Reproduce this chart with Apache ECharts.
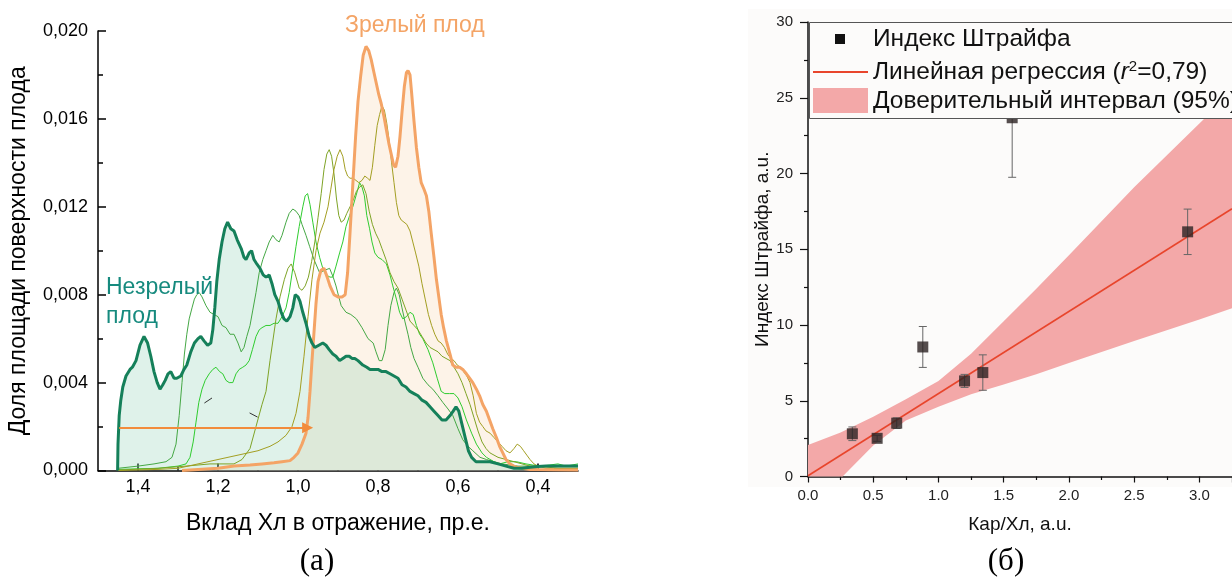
<!DOCTYPE html>
<html><head><meta charset="utf-8">
<script src="https://cdn.jsdelivr.net/npm/echarts@6/dist/echarts.min.js"></script>
<style>html,body{margin:0;padding:0;background:#fff}#c{width:1232px;height:579px}</style>
</head><body><div id="c"></div>
<script>
// ---------- Panel (a): distribution curves [x (pr.e.), share] ----------
const immature = [[1.451,0],[1.450,0.0012],[1.447,0.0025],[1.443,0.0032],[1.438,0.0038],[1.43,0.0043],[1.42,0.0046],[1.414,0.0047],[1.405,0.0050],[1.395,0.0057],[1.385,0.0061],[1.376,0.0058],[1.368,0.0052],[1.36,0.0045],[1.352,0.0040],[1.345,0.0037],[1.338,0.0039],[1.332,0.0041],[1.325,0.0044],[1.318,0.0045],[1.31,0.0042],[1.303,0.0042],[1.293,0.0043],[1.285,0.0046],[1.278,0.0048],[1.268,0.0054],[1.259,0.0058],[1.25,0.0060],[1.243,0.0061],[1.235,0.0059],[1.226,0.0057],[1.218,0.0058],[1.213,0.0064],[1.208,0.0074],[1.203,0.0086],[1.197,0.0096],[1.19,0.0104],[1.183,0.0110],[1.176,0.0113],[1.168,0.0110],[1.16,0.0109],[1.152,0.0105],[1.142,0.0101],[1.135,0.0097],[1.13,0.0096],[1.122,0.0099],[1.116,0.0100],[1.11,0.0096],[1.103,0.0094],[1.095,0.0092],[1.087,0.0089],[1.08,0.0088],[1.072,0.0089],[1.065,0.0085],[1.058,0.0080],[1.05,0.0077],[1.042,0.0072],[1.035,0.0069],[1.028,0.0068],[1.02,0.0070],[1.013,0.0074],[1.007,0.0080],[1.0,0.0079],[0.995,0.0077],[0.988,0.0072],[0.98,0.0067],[0.972,0.0061],[0.965,0.0058],[0.958,0.0056],[0.948,0.0057],[0.938,0.0058],[0.93,0.0057],[0.922,0.0055],[0.913,0.0053],[0.905,0.0052],[0.896,0.0050],[0.888,0.0051],[0.88,0.0052],[0.872,0.0052],[0.865,0.0051],[0.858,0.0051],[0.85,0.0050],[0.838,0.0048],[0.828,0.0047],[0.82,0.0046],[0.81,0.0046],[0.80,0.0046],[0.79,0.0045],[0.78,0.0045],[0.77,0.0044],[0.76,0.0043],[0.75,0.0042],[0.74,0.0039],[0.73,0.0038],[0.72,0.0036],[0.71,0.0035],[0.70,0.0034],[0.69,0.0032],[0.68,0.0031],[0.67,0.0029],[0.66,0.0027],[0.65,0.0025],[0.64,0.0023],[0.63,0.0023],[0.62,0.0025],[0.612,0.0027],[0.605,0.0029],[0.598,0.0027],[0.59,0.0021],[0.582,0.0015],[0.574,0.0009],[0.566,0.0006],[0.555,0.0004],[0.54,0.0004],[0.52,0.0004],[0.50,0.0003],[0.48,0.0002],[0.46,0.0001],[0.44,0.0001],[0.42,0.00015],[0.40,0.00018],[0.38,0.0002],[0.36,0.0002],[0.34,0.0002],[0.32,0.0002],[0.30,0.0002]];

const mature = [[1.29,0],[1.25,0.00005],[1.2,0.0001],[1.16,0.0002],[1.12,0.00025],[1.09,0.0003],[1.06,0.00035],[1.04,0.0004],[1.02,0.00045],[1.01,0.0006],[1.0,0.0008],[0.99,0.0012],[0.98,0.0017],[0.975,0.0024],[0.97,0.0036],[0.965,0.0050],[0.96,0.0063],[0.955,0.0076],[0.95,0.0086],[0.943,0.0091],[0.935,0.0092],[0.927,0.0088],[0.92,0.0084],[0.91,0.0080],[0.9,0.0079],[0.89,0.0079],[0.882,0.0080],[0.876,0.0090],[0.87,0.0108],[0.863,0.0130],[0.856,0.0152],[0.85,0.0168],[0.843,0.0180],[0.837,0.0189],[0.83,0.0193],[0.823,0.0191],[0.817,0.0187],[0.81,0.0181],[0.804,0.0176],[0.798,0.0171],[0.792,0.0167],[0.785,0.0161],[0.779,0.0155],[0.773,0.0149],[0.767,0.0144],[0.761,0.0139],[0.756,0.0138],[0.75,0.0143],[0.745,0.0152],[0.74,0.0163],[0.734,0.0175],[0.729,0.0181],[0.725,0.0182],[0.72,0.0180],[0.716,0.0172],[0.71,0.0159],[0.704,0.0147],[0.698,0.0138],[0.692,0.0131],[0.685,0.0128],[0.679,0.0125],[0.673,0.0118],[0.667,0.0108],[0.66,0.0097],[0.654,0.0087],[0.648,0.0079],[0.642,0.0071],[0.636,0.0065],[0.629,0.0059],[0.62,0.0053],[0.613,0.0048],[0.605,0.0047],[0.596,0.0047],[0.588,0.0046],[0.579,0.0044],[0.571,0.0042],[0.563,0.0040],[0.554,0.0037],[0.546,0.0034],[0.538,0.0030],[0.529,0.0027],[0.521,0.0023],[0.513,0.0019],[0.504,0.0015],[0.496,0.0011],[0.488,0.0008],[0.48,0.0005],[0.47,0.0003],[0.46,0.0002],[0.454,0.00015],[0.44,0.0001],[0.42,0.00005],[0.40,0.00004],[0.36,0.00003],[0.30,0.00002]];

const stageA = [[1.45,0.0001],[1.40,0.0002],[1.36,0.0003],[1.33,0.0004],[1.315,0.0006],[1.305,0.0012],[1.297,0.0025],[1.29,0.0040],[1.284,0.0053],[1.278,0.0062],[1.272,0.0069],[1.265,0.0074],[1.259,0.0078],[1.253,0.0080],[1.247,0.0081],[1.24,0.0079],[1.23,0.0075],[1.22,0.0072],[1.21,0.0071],[1.2,0.0070],[1.19,0.0066],[1.18,0.0065],[1.17,0.0062],[1.16,0.0062],[1.15,0.0058],[1.142,0.0054],[1.135,0.0056],[1.128,0.0061],[1.12,0.0066],[1.113,0.0073],[1.105,0.0081],[1.097,0.0090],[1.088,0.0096],[1.08,0.0100],[1.072,0.0104],[1.063,0.0107],[1.055,0.0105],[1.047,0.0104],[1.04,0.0107],[1.03,0.0113],[1.022,0.0117],[1.013,0.0119],[1.005,0.0118],[0.997,0.0116],[0.99,0.0112],[0.98,0.0107],[0.971,0.0102],[0.96,0.0096],[0.946,0.0090],[0.935,0.0091],[0.921,0.0092],[0.912,0.0088],[0.905,0.0084],[0.898,0.0079],[0.892,0.0075],[0.88,0.0072],[0.868,0.0071],[0.854,0.0069],[0.84,0.0065],[0.825,0.0060],[0.812,0.0058],[0.805,0.0054],[0.797,0.0050],[0.79,0.0050],[0.782,0.0055],[0.775,0.0066],[0.768,0.0075],[0.76,0.0081],[0.754,0.0083],[0.747,0.0080],[0.74,0.0074],[0.733,0.0068],[0.725,0.0062],[0.718,0.0056],[0.71,0.0051],[0.70,0.0047],[0.688,0.0042],[0.675,0.0039],[0.663,0.0037],[0.65,0.0034],[0.638,0.0031],[0.625,0.0028],[0.613,0.0025],[0.60,0.0019],[0.588,0.0014],[0.575,0.0011],[0.563,0.0009],[0.545,0.0006],[0.529,0.0005],[0.51,0.0004],[0.49,0.0003],[0.45,0.0002],[0.40,0.0002],[0.35,0.0002],[0.30,0.0002]];

const stageB = [[1.45,0.00005],[1.35,0.0001],[1.30,0.0002],[1.28,0.0003],[1.27,0.0006],[1.262,0.0013],[1.255,0.0022],[1.248,0.0031],[1.24,0.0037],[1.232,0.0041],[1.222,0.0044],[1.213,0.0046],[1.205,0.0047],[1.196,0.0045],[1.188,0.0044],[1.18,0.0041],[1.172,0.0040],[1.163,0.0040],[1.155,0.0044],[1.147,0.0046],[1.138,0.0047],[1.13,0.0048],[1.122,0.0050],[1.114,0.0055],[1.105,0.0061],[1.097,0.0064],[1.09,0.0065],[1.08,0.0066],[1.07,0.0066],[1.06,0.0067],[1.05,0.0067],[1.04,0.0070],[1.03,0.0074],[1.022,0.0081],[1.013,0.0092],[1.005,0.0102],[0.997,0.0111],[0.988,0.0120],[0.982,0.0125],[0.976,0.0126],[0.97,0.0121],[0.963,0.0113],[0.955,0.0104],[0.946,0.0097],[0.938,0.0092],[0.93,0.0089],[0.92,0.0088],[0.913,0.0088],[0.905,0.0093],[0.896,0.0099],[0.888,0.0104],[0.88,0.0111],[0.871,0.0116],[0.863,0.0120],[0.855,0.0125],[0.846,0.0131],[0.84,0.0129],[0.834,0.0125],[0.828,0.0116],[0.821,0.0110],[0.815,0.0104],[0.808,0.0099],[0.8,0.0097],[0.79,0.0096],[0.779,0.0094],[0.77,0.0089],[0.763,0.0084],[0.754,0.0078],[0.746,0.0072],[0.738,0.0069],[0.729,0.0070],[0.72,0.0072],[0.712,0.0071],[0.704,0.0066],[0.696,0.0062],[0.688,0.0060],[0.675,0.0055],[0.663,0.0049],[0.652,0.0042],[0.642,0.0036],[0.633,0.0035],[0.621,0.0035],[0.61,0.0035],[0.6,0.0033],[0.59,0.0029],[0.579,0.0023],[0.566,0.0017],[0.554,0.0012],[0.54,0.0008],[0.529,0.0006],[0.51,0.0004],[0.496,0.0003],[0.475,0.0004],[0.454,0.0004],[0.43,0.0003],[0.413,0.00025],[0.39,0.0002],[0.371,0.00025],[0.35,0.0003],[0.33,0.0002],[0.30,0.0003]];

const stageC = [[1.45,0.00002],[1.35,0.0001],[1.28,0.0002],[1.22,0.0003],[1.16,0.0003],[1.14,0.0005],[1.12,0.0010],[1.105,0.0020],[1.09,0.0030],[1.08,0.0036],[1.07,0.0050],[1.055,0.0069],[1.045,0.0079],[1.034,0.0087],[1.025,0.0092],[1.017,0.0094],[1.008,0.0090],[0.997,0.0083],[0.99,0.0082],[0.982,0.0084],[0.974,0.0088],[0.966,0.0095],[0.958,0.0104],[0.95,0.0115],[0.942,0.0126],[0.935,0.0137],[0.928,0.0144],[0.922,0.0146],[0.916,0.0143],[0.91,0.0135],[0.904,0.0124],[0.898,0.0116],[0.892,0.0113],[0.885,0.0114],[0.878,0.0117],[0.87,0.0120],[0.862,0.0123],[0.854,0.0127],[0.846,0.0129],[0.838,0.0130],[0.83,0.0126],[0.822,0.0118],[0.814,0.0112],[0.806,0.0108],[0.798,0.0105],[0.79,0.0101],[0.78,0.0096],[0.77,0.0090],[0.76,0.0086],[0.75,0.0083],[0.74,0.0078],[0.73,0.0073],[0.72,0.0068],[0.71,0.0066],[0.70,0.0064],[0.69,0.0061],[0.68,0.0058],[0.67,0.0056],[0.66,0.0055],[0.65,0.0054],[0.64,0.0052],[0.63,0.0051],[0.62,0.0050],[0.61,0.0047],[0.60,0.0044],[0.59,0.0040],[0.58,0.0035],[0.57,0.0030],[0.56,0.0024],[0.55,0.0018],[0.54,0.0013],[0.53,0.0010],[0.52,0.0008],[0.50,0.0006],[0.48,0.0005],[0.46,0.0004],[0.44,0.0003],[0.42,0.0002],[0.40,0.0002],[0.35,0.0001],[0.30,0.0001]];

const stageD = [[1.45,0.0],[1.35,0.00005],[1.3,0.0001],[1.25,0.0003],[1.2,0.0005],[1.15,0.0007],[1.1,0.0009],[1.07,0.0011],[1.05,0.0013],[1.03,0.0016],[1.015,0.0020],[1.005,0.0026],[0.995,0.0036],[0.985,0.0052],[0.975,0.0070],[0.965,0.0087],[0.955,0.0100],[0.945,0.0108],[0.935,0.0113],[0.925,0.0120],[0.918,0.0128],[0.91,0.0137],[0.902,0.0143],[0.895,0.0146],[0.888,0.0143],[0.882,0.0137],[0.876,0.0134],[0.87,0.0133],[0.862,0.0133],[0.855,0.0132],[0.848,0.0131],[0.84,0.0132],[0.833,0.0134],[0.826,0.0133],[0.82,0.0132],[0.814,0.0138],[0.808,0.0148],[0.802,0.0157],[0.796,0.0162],[0.79,0.0166],[0.784,0.0164],[0.778,0.0158],[0.772,0.0150],[0.766,0.0140],[0.76,0.0131],[0.754,0.0122],[0.748,0.0116],[0.742,0.0114],[0.735,0.0113],[0.728,0.0112],[0.72,0.0109],[0.713,0.0104],[0.706,0.0099],[0.698,0.0093],[0.69,0.0085],[0.682,0.0078],[0.674,0.0071],[0.666,0.0066],[0.658,0.0062],[0.65,0.0059],[0.642,0.0058],[0.634,0.0056],[0.626,0.0053],[0.618,0.0051],[0.61,0.0050],[0.602,0.0048],[0.594,0.0047],[0.586,0.0045],[0.578,0.0043],[0.57,0.0040],[0.562,0.0034],[0.554,0.0026],[0.546,0.0022],[0.538,0.0020],[0.53,0.0018],[0.52,0.0017],[0.51,0.0015],[0.50,0.0013],[0.49,0.0011],[0.48,0.0009],[0.47,0.0008],[0.46,0.0010],[0.452,0.0012],[0.444,0.0011],[0.436,0.0009],[0.428,0.0007],[0.42,0.0005],[0.41,0.0003],[0.40,0.0002],[0.38,0.0001],[0.35,0.0001],[0.30,0.0001]];

const arrowStart = [1.447, 0.00195];
const arrowEnd = [0.976, 0.00195];
const strayMarks = [[[1.234,0.00307],[1.215,0.0033]], [[1.121,0.00262],[1.101,0.00243]]];

const xMajorTicksA = [0.4, 0.6, 0.8, 1.0, 1.2, 1.4];
const xMinorTicksA = [0.5, 0.7, 0.9, 1.1, 1.3];

// ---------- Panel (б): Streif index vs Car/Chl ----------
const strX   = [0.34, 0.53, 0.68, 0.88, 1.20, 1.34, 1.565, 2.91];
const strY   = [2.82, 2.52, 3.52, 8.55, 6.31, 6.86, 23.68, 16.15];
const strErr = [0.45, 0.20, 0.35, 1.35, 0.43, 1.17, 3.93, 1.50];
const regX = [0, 3.25];
const regY = [0.05, 17.67];
const bandUpX = [0, 0.25, 0.5, 0.75, 1.0, 1.25, 1.5, 1.75, 2.0, 2.5, 3.0, 3.25];
const bandUpY = [2.08, 2.9, 3.95, 5.1, 6.3, 8.1, 10.25, 12.4, 14.6, 19.1, 23.3, 25.4];
const bandLoX = [0, 0.265, 0.5, 0.75, 1.0, 1.25, 1.5, 1.75, 2.0, 2.5, 3.0, 3.25];
const bandLoY = [0, 0, 2.05, 3.7, 4.6, 5.43, 6.07, 6.75, 7.5, 8.95, 10.37, 11.1];

const FONT = 'Liberation Sans, Arial, sans-serif';
const SERIF = 'Liberation Serif, Times New Roman, serif';
const BLACK = '#000';
const LEG = '24.5px ' + FONT;

const chart = echarts.init(document.getElementById('c'), null, {renderer: 'canvas'});

function thin(data, color) {
  return {type: 'line', xAxisIndex: 0, yAxisIndex: 0, data: data, showSymbol: false, symbol: 'none',
    lineStyle: {color: color, width: 1}, z: 3, silent: true};
}

const option = {
  animation: false,
  backgroundColor: '#ffffff',
  grid: [
    {left: 98, top: 31, width: 480, height: 439.5},
    {left: 808, top: 22, width: 433.3, height: 454.5}
  ],
  xAxis: [
    {gridIndex: 0, type: 'value', inverse: true, min: 0.3, max: 1.5,
     axisLine: {show: true, onZero: false, lineStyle: {color: BLACK, width: 1.5}},
     axisTick: {show: true, inside: true, length: 7, customValues: xMajorTicksA, lineStyle: {color: BLACK, width: 1.5}},
     axisLabel: {customValues: xMajorTicksA, formatter: v => v.toFixed(1).replace('.', ','), fontSize: 18, color: BLACK, margin: 8, fontFamily: FONT},
     splitLine: {show: false},
     name: 'Вклад Хл в отражение, пр.е.', nameLocation: 'middle', nameGap: 42,
     nameTextStyle: {fontSize: 23, color: BLACK, fontFamily: FONT}},
    {gridIndex: 0, type: 'value', inverse: true, min: 0.3, max: 1.5, position: 'bottom',
     axisLine: {show: false},
     axisTick: {show: true, inside: true, length: 4, customValues: xMinorTicksA, lineStyle: {color: BLACK, width: 1.5}},
     axisLabel: {show: false}, splitLine: {show: false}},
    {gridIndex: 1, type: 'value', min: 0, max: 3.25, interval: 0.5,
     axisLine: {show: true, onZero: false, lineStyle: {color: '#111', width: 1.5}},
     axisTick: {show: true, length: 6, lineStyle: {color: '#111', width: 1.2}},
     minorTick: {show: true, splitNumber: 2, length: 3.5, lineStyle: {color: '#111', width: 1.2}},
     axisLabel: {formatter: v => (Math.abs(v * 2 - Math.round(v * 2)) < 1e-6 ? v.toFixed(1) : ''), fontSize: 15, color: '#222', margin: 12, fontFamily: FONT, showMaxLabel: false},
     splitLine: {show: false}, minorSplitLine: {show: false},
     name: 'Кар/Хл, а.u.', nameLocation: 'middle', nameGap: 39,
     nameTextStyle: {fontSize: 19, color: '#111', fontFamily: FONT}}
  ],
  yAxis: [
    {gridIndex: 0, type: 'value', min: 0, max: 0.02, interval: 0.004,
     axisLine: {show: true, onZero: false, lineStyle: {color: BLACK, width: 1.5}},
     axisTick: {show: true, inside: true, length: 8, lineStyle: {color: BLACK, width: 1.5}},
     minorTick: {show: true, splitNumber: 2, length: 5, lineStyle: {color: BLACK, width: 1.5}},
     axisLabel: {formatter: v => v.toFixed(3).replace('.', ','), fontSize: 18, color: BLACK, margin: 10, fontFamily: FONT},
     splitLine: {show: false}, minorSplitLine: {show: false},
     name: 'Доля площади поверхности плода', nameLocation: 'middle', nameGap: 68,
     nameTextStyle: {fontSize: 23, color: BLACK, fontFamily: FONT}},
    {gridIndex: 1, type: 'value', min: 0, max: 30, interval: 5,
     axisLine: {show: true, onZero: false, lineStyle: {color: '#111', width: 1.5}},
     axisTick: {show: true, length: 8, lineStyle: {color: '#111', width: 1.2}},
     minorTick: {show: true, splitNumber: 2, length: 4, lineStyle: {color: '#111', width: 1.2}},
     axisLabel: {fontSize: 15, color: '#222', margin: 15, fontFamily: FONT},
     splitLine: {show: false}, minorSplitLine: {show: false},
     name: 'Индекс Штрайфа, а.u.', nameLocation: 'middle', nameGap: 34,
     nameTextStyle: {fontSize: 19, color: '#111', fontFamily: FONT}}
  ],
  series: [
    {type: 'line', xAxisIndex: 0, yAxisIndex: 0, data: mature, showSymbol: false, symbol: 'none',
     lineStyle: {width: 0, opacity: 0}, areaStyle: {color: '#fdf3e8', opacity: 1}, z: 1, silent: true},
    {type: 'line', xAxisIndex: 0, yAxisIndex: 0, data: immature, showSymbol: false, symbol: 'none',
     lineStyle: {width: 0, opacity: 0}, areaStyle: {color: 'rgba(140,210,180,0.28)', opacity: 1}, z: 1, silent: true},
    thin(stageA, '#45a845'),
    thin(stageB, '#2fcc2f'),
    thin(stageC, '#7ea326'),
    thin(stageD, '#a39e22'),
    {type: 'line', xAxisIndex: 0, yAxisIndex: 0, data: mature, showSymbol: false, symbol: 'none',
     lineStyle: {color: '#f4a466', width: 3}, z: 4, silent: true},
    {type: 'line', xAxisIndex: 0, yAxisIndex: 0, data: immature, showSymbol: false, symbol: 'none',
     lineStyle: {color: '#15805a', width: 3}, z: 5, silent: true},
    {type: 'lines', coordinateSystem: 'cartesian2d', xAxisIndex: 0, yAxisIndex: 0,
     data: [{coords: [arrowStart, arrowEnd]}], symbol: ['none', 'triangle'], symbolSize: 11,
     lineStyle: {color: '#f28c3c', width: 2, opacity: 1}, z: 6, silent: true},
    {type: 'lines', coordinateSystem: 'cartesian2d', xAxisIndex: 0, yAxisIndex: 0,
     data: strayMarks.map(c => ({coords: c})), symbol: 'none',
     lineStyle: {color: '#333', width: 1, opacity: 1}, z: 6, silent: true},
    {type: 'custom', coordinateSystem: 'cartesian2d', xAxisIndex: 2, yAxisIndex: 1, data: [0], z: 2, silent: true,
     renderItem: function (params, api) {
       const pts = [];
       for (let i = 0; i < bandUpX.length; i++) pts.push(api.coord([bandUpX[i], bandUpY[i]]));
       for (let i = bandLoX.length - 1; i >= 0; i--) pts.push(api.coord([bandLoX[i], bandLoY[i]]));
       return {type: 'polygon', shape: {points: pts}, style: {fill: '#f3a8a8', stroke: 'none'}};
     }},
    {type: 'line', xAxisIndex: 2, yAxisIndex: 1, data: regX.map((x, i) => [x, regY[i]]), showSymbol: false, symbol: 'none',
     lineStyle: {color: '#e8452c', width: 1.6}, z: 3, silent: true},
    {type: 'custom', coordinateSystem: 'cartesian2d', xAxisIndex: 2, yAxisIndex: 1, z: 4, silent: true,
     data: strX.map((x, i) => [x, strY[i], strErr[i]]),
     renderItem: function (params, api) {
       const x = api.value(0), y = api.value(1), e = api.value(2);
       const t = api.coord([x, y + e]), b = api.coord([x, y - e]);
       const st = {stroke: '#666', lineWidth: 1};
       return {type: 'group', children: [
         {type: 'line', shape: {x1: t[0], y1: t[1], x2: b[0], y2: b[1]}, style: st},
         {type: 'line', shape: {x1: t[0] - 4, y1: t[1], x2: t[0] + 4, y2: t[1]}, style: st},
         {type: 'line', shape: {x1: b[0] - 4, y1: b[1], x2: b[0] + 4, y2: b[1]}, style: st}
       ]};
     }},
    {type: 'scatter', xAxisIndex: 2, yAxisIndex: 1, data: strX.map((x, i) => [x, strY[i]]),
     symbol: 'rect', symbolSize: 11, itemStyle: {color: '#2a2222'}, z: 5, silent: true}
  ],
  graphic: [
    {type: 'rect', z: -10, silent: true, shape: {x: 748, y: 9, width: 484, height: 478}, style: {fill: '#fcfbfa'}},
    {type: 'text', z: 10, silent: true, x: 106, y: 288, style: {text: 'Незрелый', fill: '#168a7e', font: '23px ' + FONT, textVerticalAlign: 'middle'}},
    {type: 'text', z: 10, silent: true, x: 106, y: 317, style: {text: 'плод', fill: '#168a7e', font: '23px ' + FONT, textVerticalAlign: 'middle'}},
    {type: 'text', z: 10, silent: true, x: 345, y: 26, style: {text: 'Зрелый плод', fill: '#f4a466', font: '23px ' + FONT, textVerticalAlign: 'middle'}},
    {type: 'text', z: 10, silent: true, x: 317, y: 562, style: {text: '(а)', fill: '#000', font: '31px ' + SERIF, textAlign: 'center', textVerticalAlign: 'middle'}},
    {type: 'text', z: 10, silent: true, x: 1006, y: 562, style: {text: '(б)', fill: '#000', font: '31px ' + SERIF, textAlign: 'center', textVerticalAlign: 'middle'}},
    {type: 'group', z: 100, silent: true, children: [
      {type: 'rect', z: 100, shape: {x: 809.5, y: 22.5, width: 440, height: 96}, style: {fill: '#fcfbfa', stroke: '#555', lineWidth: 1}},
      {type: 'rect', z: 101, shape: {x: 835, y: 34, width: 10, height: 10}, style: {fill: '#111'}},
      {type: 'text', z: 101, x: 873, y: 39, style: {text: 'Индекс Штрайфа', font: LEG, fill: '#111', textVerticalAlign: 'middle'}},
      {type: 'line', z: 101, shape: {x1: 813, y1: 72, x2: 868, y2: 72}, style: {stroke: '#e8452c', lineWidth: 2}},
      {type: 'text', z: 101, x: 873, y: 72, style: {
        text: 'Линейная регрессия ({i|r}{s|2}=0,79)', font: LEG, fill: '#111', textVerticalAlign: 'middle',
        rich: {i: {fontStyle: 'italic', fontSize: 24.5, fontFamily: FONT, fill: '#111'}, s: {fontSize: 15, fontFamily: FONT, verticalAlign: 'top', fill: '#111'}}}},
      {type: 'rect', z: 101, shape: {x: 813, y: 88, width: 55, height: 25}, style: {fill: '#f3a8a8'}},
      {type: 'text', z: 101, x: 873, y: 101, style: {text: 'Доверительный интервал (95%)', font: LEG, fill: '#111', textVerticalAlign: 'middle'}}
    ]}
  ]
};
chart.setOption(option);
</script>
</body></html>
